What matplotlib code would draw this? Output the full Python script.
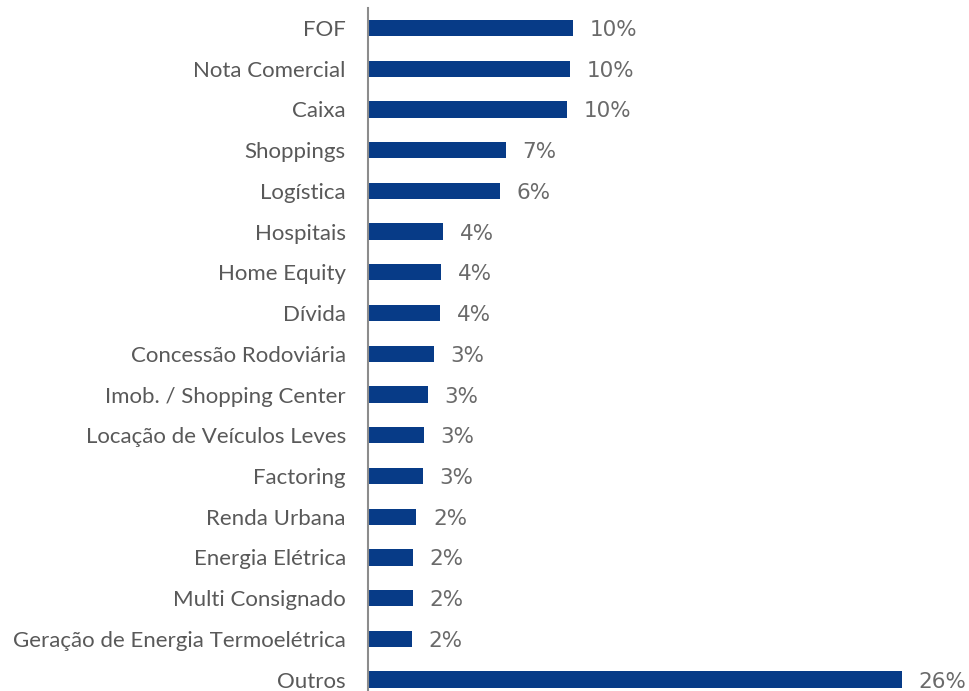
import matplotlib.pyplot as plt

# categories, top to bottom
categories = [
    "FOF", "Nota Comercial", "Caixa", "Shoppings", "Logística", "Hospitais",
    "Home Equity", "Dívida", "Concessão Rodoviária", "Imob. / Shopping Center",
    "Locação de Veículos Leves", "Factoring", "Renda Urbana", "Energia Elétrica",
    "Multi Consignado", "Geração de Energia Termoelétrica", "Outros",
]
# share of portfolio (%)
values = [9.98, 9.82, 9.69, 6.70, 6.44, 3.67, 3.57, 3.52, 3.21, 2.92,
          2.71, 2.68, 2.35, 2.19, 2.18, 2.14, 26.0]

bar_color = "#073b87"
text_color = "#595959"

fig = plt.figure(figsize=(9.7, 6.91), dpi=100)
ax = fig.add_axes([0.3794, 0.0, 0.6206, 0.9890])

pos = list(range(len(categories)))
ax.barh(pos, values, height=0.4, color=bar_color)

# value labels right of each bar
for p, v in zip(pos, values):
    ax.annotate(f"{v:.0f}%", xy=(v, p), xytext=(12, 0), textcoords="offset points",
                va="center_baseline", ha="left", fontsize=15.5, color="#6a6a6a",
                family="DejaVu Sans")

ax.set_yticks(pos)
ax.set_yticklabels(categories, fontsize=16, color=text_color, family="Lato",
                   va="center_baseline")
ax.tick_params(axis="y", length=0, pad=16)
ax.set_xticks([])
ax.set_xlim(0, 29.3)
ax.set_ylim(16.28, -0.5)

for s in ["top", "right", "bottom"]:
    ax.spines[s].set_visible(False)
ax.spines["left"].set_color("#8c8c8c")
ax.spines["left"].set_linewidth(1.5)

fig.savefig("out.png", dpi=100)
